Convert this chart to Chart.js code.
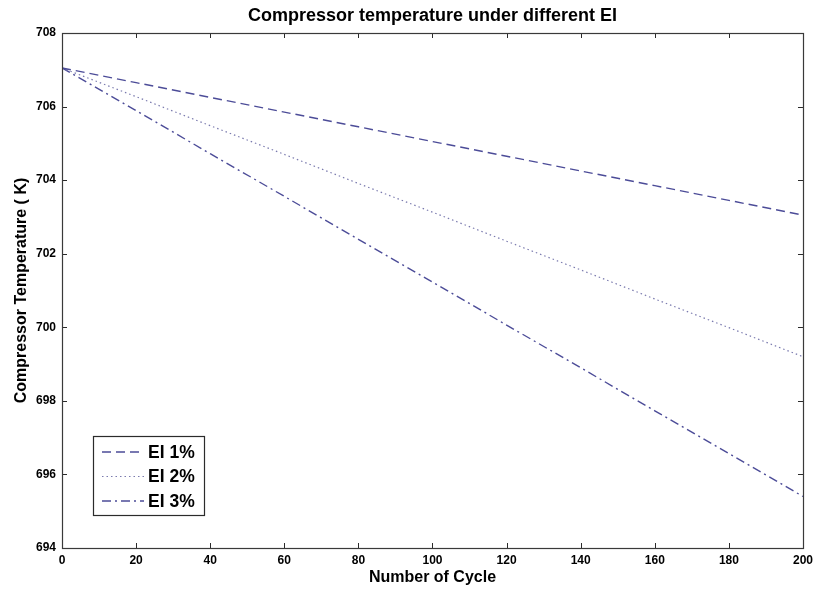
<!DOCTYPE html>
<html>
<head>
<meta charset="utf-8">
<script src="https://cdn.jsdelivr.net/npm/chart.js@4/dist/chart.umd.min.js"></script>
<style>
  html, body { margin: 0; padding: 0; background: #fff; }
  #wrap { width: 818px; height: 592px; }
</style>
</head>
<body>
<div id="wrap"><canvas id="tempChart" width="818" height="592"></canvas></div>
<script>
// cycle count on the x axis
const cycles = [0, 20, 40, 60, 80, 100, 120, 140, 160, 180, 200];

// compressor temperature (K) for each EI level
const ei1 = [707.05, 706.65, 706.25, 705.85, 705.45, 705.05, 704.65, 704.25, 703.85, 703.45, 703.05];
const ei2 = [707.05, 706.27, 705.48, 704.70, 703.91, 703.13, 702.34, 701.56, 700.77, 699.99, 699.20];
const ei3 = [707.05, 705.89, 704.72, 703.56, 702.39, 701.23, 700.06, 698.90, 697.73, 696.57, 695.40];

const seriesNames = ['EI 1%', 'EI 2%', 'EI 3%'];

const FONT = '"Liberation Sans", Arial, sans-serif';

function toPoints(ys) {
    return cycles.map((c, i) => ({ x: c, y: ys[i] }));
}

// box around the plot area with inward ticks on every side (matlab style)
const boxAndTicks = {
    id: 'boxAndTicks',
    afterDraw(chart) {
        const { ctx, chartArea: a, scales } = chart;
        const len = 5;
        ctx.save();
        ctx.strokeStyle = '#2b2b2b';
        ctx.lineWidth = 1;
        ctx.beginPath();
        scales.x.ticks.forEach(t => {
            const px = Math.round(scales.x.getPixelForValue(t.value)) + 0.5;
            ctx.moveTo(px, a.bottom); ctx.lineTo(px, a.bottom - len);
            ctx.moveTo(px, a.top); ctx.lineTo(px, a.top + len);
        });
        scales.y.ticks.forEach(t => {
            const py = Math.round(scales.y.getPixelForValue(t.value)) + 0.5;
            ctx.moveTo(a.left, py); ctx.lineTo(a.left + len, py);
            ctx.moveTo(a.right, py); ctx.lineTo(a.right - len, py);
        });
        ctx.stroke();
        ctx.strokeStyle = '#3a3a3a';
        ctx.lineWidth = 1.2;
        ctx.strokeRect(Math.round(a.left) + 0.5, Math.round(a.top) + 0.5,
                       Math.round(a.right - a.left), Math.round(a.bottom - a.top));
        ctx.restore();
    }
};

// legend box in the lower left corner, samples use each dataset's own dash
const boxLegend = {
    id: 'boxLegend',
    afterDraw(chart) {
        const ctx = chart.ctx;
        const bx = 93, by = 436, bw = 111, bh = 79;
        ctx.save();
        ctx.fillStyle = '#fff';
        ctx.fillRect(bx, by, bw, bh);
        ctx.strokeStyle = '#2b2b2b';
        ctx.lineWidth = 1.2;
        ctx.strokeRect(bx + 0.5, by + 0.5, bw, bh);
        chart.data.datasets.forEach((ds, i) => {
            const y = 452 + i * 24.5;
            ctx.strokeStyle = ds.borderColor;
            ctx.lineWidth = ds.borderWidth;
            ctx.setLineDash(ds.borderDash);
            ctx.beginPath();
            ctx.moveTo(102, y);
            ctx.lineTo(144, y);
            ctx.stroke();
            ctx.setLineDash([]);
            ctx.fillStyle = '#000';
            ctx.font = 'bold 17.5px ' + FONT;
            ctx.textBaseline = 'middle';
            ctx.textAlign = 'left';
            ctx.fillText(ds.label, 148, y + 1);
        });
        ctx.restore();
    }
};

// chart title drawn centred above the plot area
const topTitle = {
    id: 'topTitle',
    afterDraw(chart) {
        const { ctx, chartArea: a } = chart;
        ctx.save();
        ctx.fillStyle = '#000';
        ctx.font = 'bold 18px ' + FONT;
        ctx.textAlign = 'center';
        ctx.textBaseline = 'middle';
        ctx.fillText('Compressor temperature under different EI', (a.left + a.right) / 2, 16);
        ctx.restore();
    }
};

function renderChart() {
    const ctx = document.getElementById('tempChart').getContext('2d');
    new Chart(ctx, {
        type: 'line',
        data: {
            datasets: [
                { label: seriesNames[0], data: toPoints(ei1), borderColor: '#4c4c98', borderWidth: 1.4, borderDash: [9, 5] },
                { label: seriesNames[1], data: toPoints(ei2), borderColor: '#7a7aae', borderWidth: 1.2, borderDash: [1.5, 3] },
                { label: seriesNames[2], data: toPoints(ei3), borderColor: '#4c4c98', borderWidth: 1.4, borderDash: [9, 4, 2, 4] }
            ]
        },
        options: {
            responsive: false,
            animation: false,
            layout: { padding: { top: 33, right: 14, left: 0, bottom: 0 } },
            elements: { point: { radius: 0 }, line: { tension: 0, fill: false } },
            plugins: {
                legend: { display: false },
                title: { display: false },
                tooltip: { enabled: false }
            },
            scales: {
                x: {
                    type: 'linear',
                    min: 0,
                    max: 200,
                    afterFit: s => { s.height = 44; },
                    ticks: { stepSize: 20, padding: 5, color: '#000', font: { family: FONT, size: 12, weight: 'bold' } },
                    grid: { drawOnChartArea: false, drawTicks: false },
                    border: { display: false },
                    title: {
                        display: true,
                        text: 'Number of Cycle',
                        color: '#000',
                        font: { family: FONT, size: 16, weight: 'bold' },
                        padding: { top: 0, bottom: 5 }
                    }
                },
                y: {
                    type: 'linear',
                    min: 694,
                    max: 708,
                    afterFit: s => { s.width = 62; },
                    ticks: { stepSize: 2, padding: 6, color: '#000', font: { family: FONT, size: 12, weight: 'bold' } },
                    grid: { drawOnChartArea: false, drawTicks: false },
                    border: { display: false },
                    title: {
                        display: true,
                        text: 'Compressor Temperature ( K)',
                        color: '#000',
                        font: { family: FONT, size: 16, weight: 'bold' },
                        padding: { top: 12, bottom: 0 }
                    }
                }
            }
        },
        plugins: [boxAndTicks, boxLegend, topTitle]
    });
}

document.addEventListener('DOMContentLoaded', renderChart);
</script>
</body>
</html>
